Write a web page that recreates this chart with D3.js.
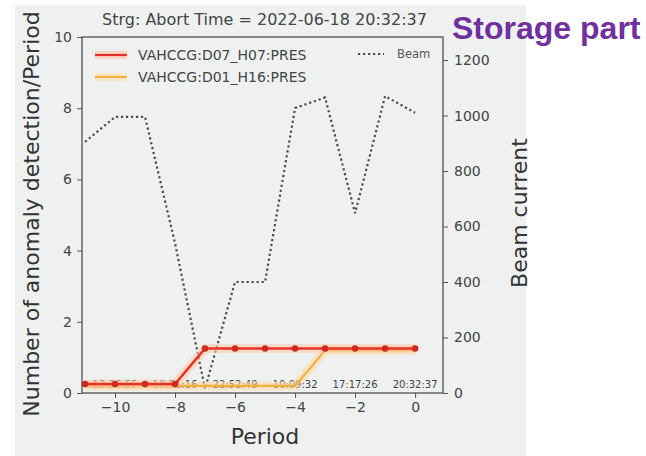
<!DOCTYPE html>
<html><head><meta charset="utf-8">
<script src="https://cdn.jsdelivr.net/npm/d3@7"></script>
<style>body{margin:0;background:#fff;} svg{display:block;}</style>
</head><body>
<svg id="c" width="646" height="456"></svg>
<script>
const periods = [-11,-10,-9,-8,-7,-6,-5,-4,-3,-2,-1,0];
const beam = [905,995,995,540,15,400,400,1027,1065,648,1070,1010];
const seriesRed = [0.25,0.25,0.25,0.25,1.25,1.25,1.25,1.25,1.25,1.25,1.25,1.25];
const seriesOrange = [0.2,0.2,0.2,0.2,0.2,0.2,0.2,0.2,1.2,1.2,1.2,1.2];
const seriesNames = ["VAHCCG:D07_H07:PRES","VAHCCG:D01_H16:PRES"];
const stampPeriods = [-10,-8,-6,-4,-2,0];
const stampTexts = ["13:36:55","18:51:16","22:52:49","10:09:32","17:17:26","20:32:37"];
const leftTicks = [0,2,4,6,8,10];
const rightTicks = [0,200,400,600,800,1000,1200];
const xTicks = [-10,-8,-6,-4,-2,0];
const title = "Strg: Abort Time = 2022-06-18 20:32:37";

const svg = d3.select("#c");
const F = "DejaVu Sans, sans-serif";
const L=82,R=443,T=37,B=393;
svg.append("rect").attr("x",15).attr("y",5).attr("width",511).attr("height",451).attr("fill","#eef1f0");

const x = d3.scaleLinear().domain([-11.1,0.93]).range([L,R]);
const yL = d3.scaleLinear().domain([0,10]).range([B,T]);
const yR = d3.scaleLinear().domain([0,1283]).range([B,T]);

const fmt = d => (d<0? "\u2212"+Math.abs(d) : ""+d);
const gx = svg.append("g").attr("transform",`translate(0,${B})`).call(d3.axisBottom(x).tickValues(xTicks).tickFormat(fmt).tickSize(5).tickPadding(4));
const gl = svg.append("g").attr("transform",`translate(${L},0)`).call(d3.axisLeft(yL).tickValues(leftTicks).tickFormat(d3.format("d")).tickSize(5).tickPadding(5));
const gr = svg.append("g").attr("transform",`translate(${R},0)`).call(d3.axisRight(yR).tickValues(rightTicks).tickFormat(d3.format("d")).tickSize(5).tickPadding(6));
[gx,gl,gr].forEach(g=>{
  g.select(".domain").remove();
  g.selectAll("line").attr("stroke","#555");
  g.selectAll("text").attr("font-family",F).attr("font-size",14).attr("fill","#444");
});
svg.append("rect").attr("x",L).attr("y",T).attr("width",R-L).attr("height",B-T).attr("fill","none").attr("stroke","#444").attr("stroke-width",1.2);

// timestamps
svg.append("g").selectAll("text").data(stampPeriods).join("text")
  .attr("x",d=>x(d)).attr("y",B-5).attr("text-anchor","middle")
  .attr("font-family",F).attr("font-size",10).attr("fill","#444")
  .text((d,i)=>stampTexts[i]);

// beam
const lineB = d3.line().x((d,i)=>x(periods[i])).y(d=>yR(d));
svg.append("path").datum(beam).attr("d",lineB).attr("fill","none").attr("stroke","#4a4a4a")
  .attr("stroke-width",2.2).attr("stroke-dasharray","2.2,2.8");

const lineL = d3.line().x((d,i)=>x(periods[i])).y(d=>yL(d));
// orange
svg.append("path").datum(seriesOrange).attr("d",lineL).attr("fill","none").attr("stroke","#ffd9a0").attr("stroke-width",9).attr("stroke-opacity",0.55);
svg.append("path").datum(seriesOrange).attr("d",lineL).attr("fill","none").attr("stroke","#f0b040").attr("stroke-width",2.2);
// red
svg.append("path").datum(seriesRed).attr("d",lineL).attr("fill","none").attr("stroke","#ffc8a8").attr("stroke-width",9).attr("stroke-opacity",0.55);
svg.append("path").datum(seriesRed).attr("d",lineL).attr("fill","none").attr("stroke","#e8302a").attr("stroke-width",2.5);
svg.append("g").selectAll("circle").data(seriesRed).join("circle")
  .attr("cx",(d,i)=>x(periods[i])).attr("cy",d=>yL(d)).attr("r",3.3).attr("fill","#cc2a22");

// legends
const lg = svg.append("g");
const lcol = ["#e8302a","#f0b040"], lhalo=["#ffc8a8","#ffe0b0"];
seriesNames.forEach((n,i)=>{
  const yy = 55 + i*22;
  lg.append("line").attr("x1",95).attr("x2",127).attr("y1",yy).attr("y2",yy).attr("stroke",lhalo[i]).attr("stroke-width",8).attr("stroke-opacity",0.6);
  lg.append("line").attr("x1",95).attr("x2",127).attr("y1",yy).attr("y2",yy).attr("stroke",lcol[i]).attr("stroke-width",2.2);
  lg.append("text").attr("x",138).attr("y",yy+5).attr("font-family",F).attr("font-size",14).attr("fill","#444").text(n);
});
lg.append("line").attr("x1",358).attr("x2",384).attr("y1",54).attr("y2",54).attr("stroke","#4a4a4a").attr("stroke-width",2.2).attr("stroke-dasharray","2.2,2.8");
lg.append("text").attr("x",397).attr("y",58).attr("font-family",F).attr("font-size",11.5).attr("fill","#555").text("Beam");

// titles
svg.append("text").attr("x",(L+R)/2+2).attr("y",25).attr("text-anchor","middle").attr("font-family",F).attr("font-size",16).attr("fill","#444").text(title);
svg.append("text").attr("transform","translate(39,214) rotate(-90)").attr("text-anchor","middle").attr("font-family",F).attr("font-size",22).attr("fill","#333").text("Number of anomaly detection/Period");
svg.append("text").attr("transform","translate(527,213) rotate(-90)").attr("text-anchor","middle").attr("font-family",F).attr("font-size",22).attr("fill","#333").text("Beam current");
svg.append("text").attr("x",265).attr("y",444).attr("text-anchor","middle").attr("font-family",F).attr("font-size",22).attr("fill","#333").text("Period");
svg.append("text").attr("x",452).attr("y",39).attr("font-family","Liberation Sans, Arial, sans-serif").attr("font-weight","bold").attr("font-size",32).attr("fill","#7030a0").text("Storage part");
</script>
</body></html>
